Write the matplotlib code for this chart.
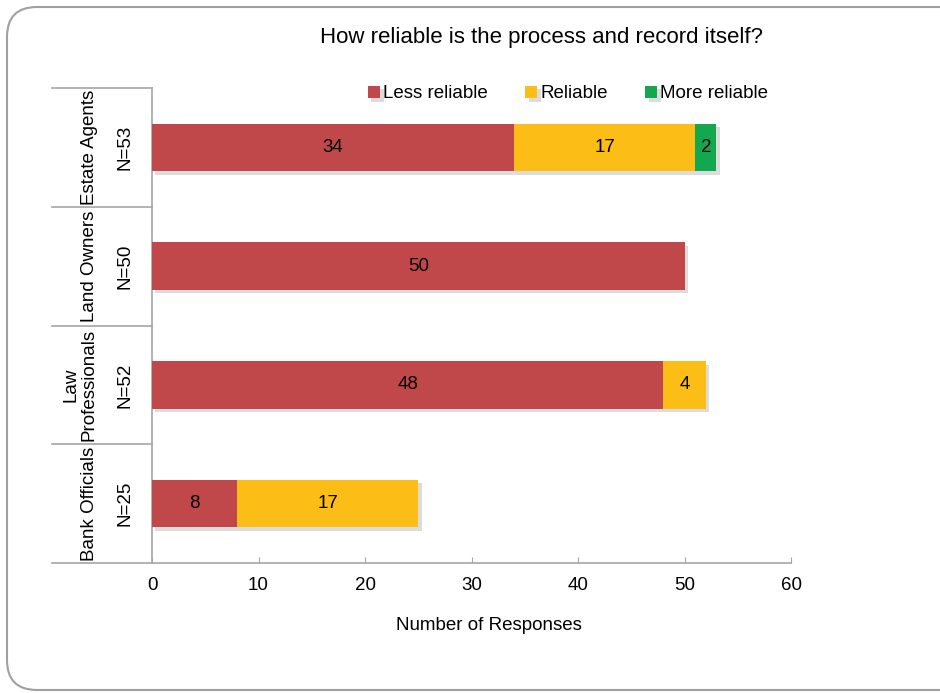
import matplotlib
matplotlib.use("Agg")
import matplotlib.pyplot as plt
import matplotlib.patheffects as pe
from matplotlib.patches import FancyBboxPatch
from matplotlib.transforms import IdentityTransform, blended_transform_factory

plt.rcParams['font.family'] = ['Liberation Sans', 'DejaVu Sans']

# data, bottom to top
groups = ['Bank Officials', 'Law\nProfessionals', 'Land Owners', 'Estate Agents']
n_labels = ['N=25', 'N=52', 'N=50', 'N=53']
series = ['Less reliable', 'Reliable', 'More reliable']
less_reliable = [8, 48, 50, 34]
reliable = [17, 4, 0, 17]
more_reliable = [0, 0, 0, 2]
colors = ['#C0484A', '#FCBE16', '#13A84F']

fs = 13.5

fig = plt.figure(figsize=(9.4, 6.93), dpi=100)
ax = fig.add_axes([152 / 940, 1 - 563 / 693, 639 / 940, 475 / 693])

shadow = [pe.SimplePatchShadow(offset=(2.5, -2.5), shadow_rgbFace='#777777', alpha=0.25), pe.Normal()]
ypos = list(range(len(groups)))
left = [0] * len(groups)
for name, vals, col in zip(series, [less_reliable, reliable, more_reliable], colors):
    bars = ax.barh(ypos, vals, left=left, height=0.4, color=col, label=name, zorder=3)
    for b in bars:
        b.set_path_effects(shadow)
    ax.bar_label(bars, labels=[str(v) if v else '' for v in vals], label_type='center', fontsize=fs, zorder=4)
    left = [l + v for l, v in zip(left, vals)]

ax.set_xlim(0, 60)
ax.set_ylim(-0.5, 3.5)
ax.set_xticks(range(0, 61, 10))
ax.set_yticks([])
for s in ['top', 'right']:
    ax.spines[s].set_visible(False)
for s in ['left', 'bottom']:
    ax.spines[s].set_color('#A6A6A6')
    ax.spines[s].set_linewidth(1.2)
ax.tick_params(axis='x', direction='in', length=4, color='#A6A6A6', labelsize=fs, pad=10)

# category label table on the left
tr = blended_transform_factory(ax.transAxes, ax.transData)
for i in range(len(groups) + 1):
    ax.plot([-100 / 639, 0], [i - 0.5, i - 0.5], transform=tr, color='#A6A6A6', lw=1.2, clip_on=False)
for i, (g, n) in enumerate(zip(groups, n_labels)):
    ax.text(-54 / 639, i, g, transform=tr, rotation=90, ha='right', va='center',
            multialignment='center', fontsize=fs, linespacing=1.15)
    ax.text(-27 / 639, i, n, transform=tr, rotation=90, ha='center', va='center', fontsize=fs)

fig.legend(loc='center', bbox_to_anchor=(568 / 940, 1 - 94 / 693), ncol=3, frameon=False,
           fontsize=fs, handlelength=0.65, handleheight=0.65, handletextpad=0.15,
           columnspacing=2.0, borderpad=0)

fig.text(541 / 940, 1 - 37 / 693, 'How reliable is the process and record itself?',
         ha='center', va='center', fontsize=16)
fig.text(489 / 940, 1 - 626 / 693, 'Number of Responses', ha='center', va='center', fontsize=fs)

# rounded frame around the whole chart
frame = FancyBboxPatch((7, 3), 980, 683, boxstyle='round,pad=0,rounding_size=30',
                       transform=IdentityTransform(), facecolor='none',
                       edgecolor='#A0A0A0', lw=1.5)
fig.patches.append(frame)

fig.savefig('out.png', dpi=100)
